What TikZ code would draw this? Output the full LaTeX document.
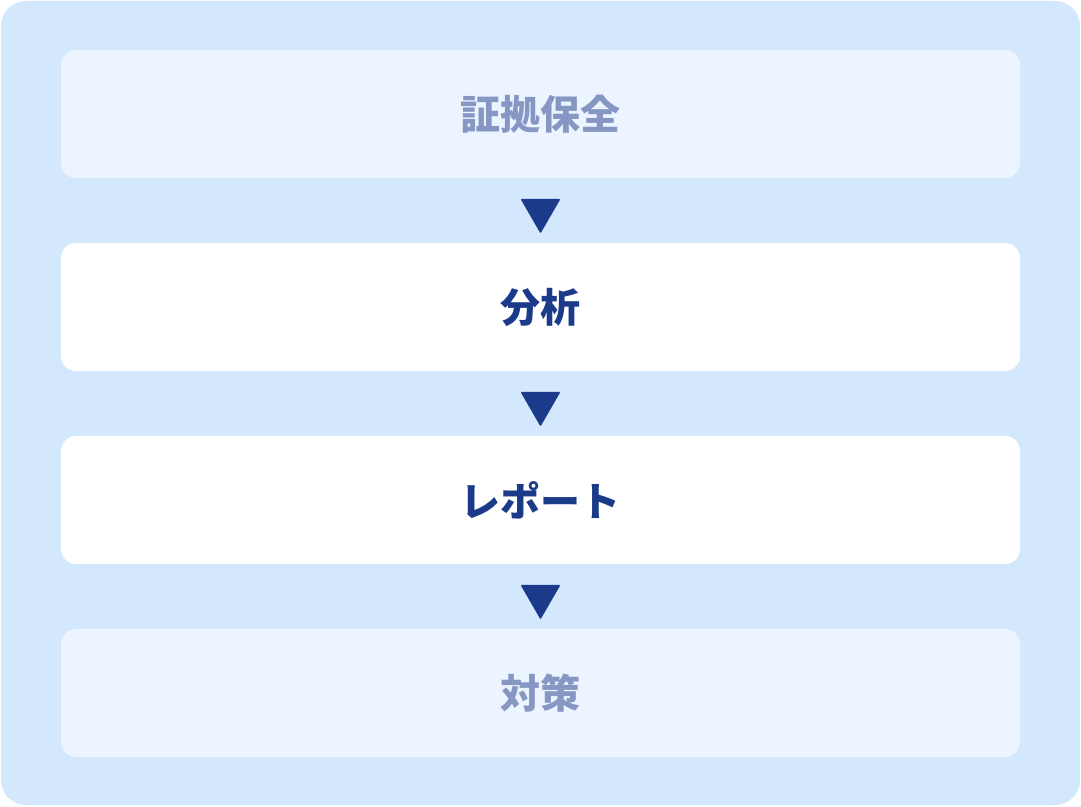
\documentclass[tikz,border=0pt]{standalone}
\usepackage{fontspec}
\newfontfamily\cjk{Noto Sans CJK JP Black}
\definecolor{panelblue}{HTML}{D3E8FD}
\definecolor{softblue}{HTML}{EBF4FF}
\definecolor{softtext}{HTML}{8797C4}
\definecolor{deepblue}{HTML}{1B3A8A}
\usetikzlibrary{shapes.geometric}
\tikzset{
	stepbox/.style={rounded corners=15pt, minimum width=959pt, minimum height=128pt, inner sep=0pt, font=\cjk\fontsize{40}{42}\selectfont},
	fadedbox/.style={stepbox, fill=softblue, text=softtext},
	activebox/.style={stepbox, fill=white, text=deepblue},
	downmark/.style={regular polygon, regular polygon sides=3, shape border rotate=180, minimum size=46pt, inner sep=0pt, fill=deepblue, rounded corners=1pt}
}
\begin{document}
\begin{tikzpicture}[x=1pt, y=1pt]
		\useasboundingbox (0,0) rectangle (1081,806);
		\fill[panelblue, rounded corners=25pt] (1,1) rectangle (1080,805);
		
		\node[fadedbox] (evidence) at (540.5,692) {証拠保全};
		\node[activebox] (analysis) at (540.5,499) {分析};
		\node[activebox] (report) at (540.5,306) {レポート};
		\node[fadedbox] (measures) at (540.5,113) {対策};
		
		\node[downmark] (m1) at (540.5,595.5) {};
		\node[downmark] (m2) at (540.5,402.5) {};
		\node[downmark] (m3) at (540.5,209.5) {};
	\end{tikzpicture}
\end{document}
